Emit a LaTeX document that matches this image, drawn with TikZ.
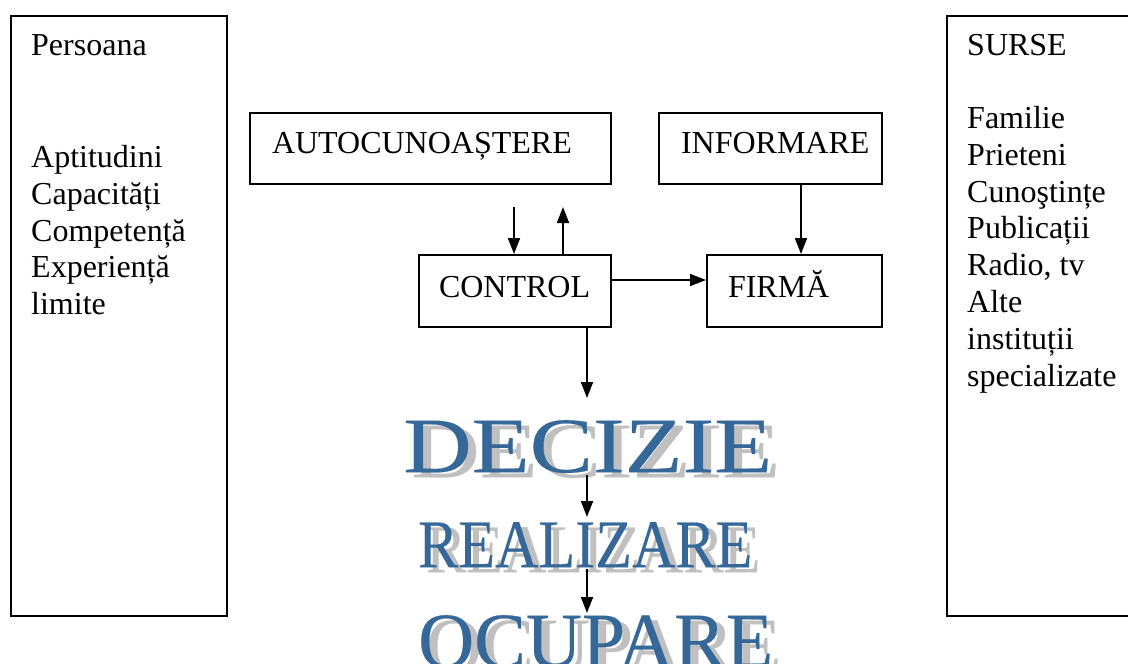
\documentclass[tikz,border=0pt]{standalone}
\usepackage{graphicx}
\usepackage{fontspec}
\setmainfont{Liberation Serif}
\newfontfamily\wafont[FakeBold=0.3]{Liberation Serif}
\usetikzlibrary{arrows.meta}
\definecolor{wablue}{HTML}{356799}
\definecolor{washadow}{HTML}{C0C0C0}
\begin{document}
\begin{tikzpicture}[x=1pt,y=-1pt,
  box/.style={draw, line width=2pt, inner ysep=0pt, anchor=north west, align=left,
    font=\fontsize{32}{36.8}\selectfont},
  lbl/.style={inner sep=0pt, anchor=base west, align=left, font=\fontsize{32}{36.8}\selectfont},
  arr/.style={line width=1.8pt, -{Triangle[length=16pt,width=12pt]}},
  wa/.style={inner sep=0pt, anchor=north west, text=wablue, font=\wafont},
  wash/.style={inner sep=0pt, anchor=north west, text=washadow, font=\wafont}]
\useasboundingbox (0,0) rectangle (1128,664);

% side boxes
\node[box, inner sep=0pt, minimum width=216pt, minimum height=600pt] (persbox) at (10,15) {};
\node[lbl] (pers) at (31,55.5) {Persoana};
\node[lbl] (perslist) at (31,314.7) {Aptitudini\\Capacități\\Competență\\Experiență\\limite};

\node[box, inner sep=0pt, minimum width=200pt, minimum height=600pt] (sursebox) at (946,15) {};
\node[lbl] (surse) at (967,55.5) {SURSE};
\node[lbl] (surselist) at (967,386.1) {Familie\\Prieteni\\Cunoştințe\\Publicații\\Radio, tv\\Alte\\instituții\\specializate};

% central boxes
\node[box, inner xsep=22pt, text width=317pt, minimum height=71pt, text height=40pt, text depth=31pt] (auto) at (249,112) {AUTOCUNOAȘTERE};
\node[box, inner xsep=22pt, text width=179pt, minimum height=71pt, text height=40pt, text depth=31pt] (informare) at (658,112) {INFORMARE};
\node[box, inner xsep=20pt, text width=152pt, minimum height=72pt, text height=42.5pt, text depth=29.5pt] (control) at (418,254) {CONTROL};
\node[box, inner xsep=21pt, text width=133pt, minimum height=72pt, text height=42.5pt, text depth=29.5pt] (firma) at (706,254) {FIRMĂ};

% word art
\node[wash] (decizieS) at (411,425) {\resizebox{369pt}{52pt}{DECIZIE}};
\node[wa] (decizie) at (403,420) {\resizebox{369pt}{52pt}{DECIZIE}};
\node[wash] (realizareS) at (426,527) {\resizebox{334pt}{45pt}{REALIZARE}};
\node[wa] (realizare) at (418,522) {\resizebox{334pt}{45pt}{REALIZARE}};
\node[wash] (ocupareS) at (426,620) {\resizebox{355pt}{52pt}{OCUPARE}};
\node[wa] (ocupare) at (418,615) {\resizebox{355pt}{52pt}{OCUPARE}};

% connectors
\coordinate (dA) at (514,207);
\coordinate (uA) at (563,207);
\coordinate (ix) at (801,0);
\coordinate (hy) at (0,280);
\coordinate (cx) at (587,398);
\draw[arr] (dA) -- (dA |- control.north);
\draw[arr] (uA |- control.north) -- (uA);
\draw[arr] (informare.south -| ix) -- (firma.north -| ix);
\draw[arr] (control.east |- hy) -- (firma.west |- hy);
\draw[arr] (control.south -| cx) -- (cx);
\draw[arr, shorten <=2pt, shorten >=5pt] (decizie.south -| cx) -- (realizare.north -| cx);
\draw[arr, shorten <=2pt, shorten >=2pt] (realizare.south -| cx) -- (ocupare.north -| cx);
\end{tikzpicture}
\end{document}
